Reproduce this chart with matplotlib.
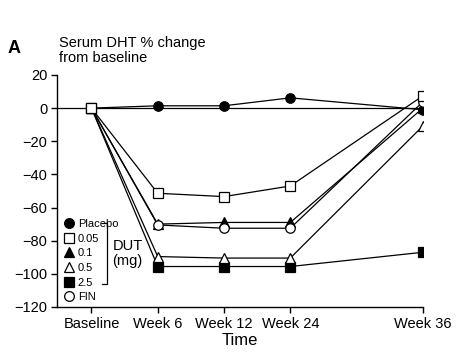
import matplotlib
matplotlib.use("Agg")
import matplotlib.pyplot as plt
from matplotlib.lines import Line2D

plt.rcParams['font.family'] = ['Liberation Sans', 'DejaVu Sans']

# time points (categorical positions, week 36 is spaced wider)
time_labels = ["Baseline", "Week 6", "Week 12", "Week 24", "Week 36"]
time_pos = [0, 1, 2, 3, 5]

placebo = [0, 1.4, 1.4, 6.2, -1]
dut_005 = [0, -51.4, -53.4, -47, 7.4]
dut_01 = [0, -70, -69, -69, 0]
dut_05 = [0, -89.6, -90.5, -90.5, -10.8]
dut_25 = [0, -95.6, -95.6, -95.6, -87]
fin = [0, -70.5, -72.5, -72.5, 3.8]

series = [
    ("2.5", dut_25, "s", "black"),
    ("0.5", dut_05, "^", "white"),
    ("0.1", dut_01, "^", "black"),
    ("Placebo", placebo, "o", "black"),
    ("FIN", fin, "o", "white"),
    ("0.05", dut_005, "s", "white"),
]
legend_order = ["Placebo", "0.05", "0.1", "0.5", "2.5", "FIN"]

fig = plt.figure(figsize=(4.73, 3.52), dpi=100)
ax = fig.add_axes([0.1205, 0.128, 0.894 - 0.1205, 0.787 - 0.128])

ax.axhline(0, color="black", lw=0.9, zorder=1)

handles = {}
for name, vals, mk, fc in series:
    ms = 7 if mk != "o" else 6.8
    ax.plot(time_pos, vals, color="black", lw=0.9, marker=mk, ms=ms,
            mfc=fc, mec="black", mew=0.9, zorder=2)
    handles[name] = Line2D([], [], ls="none", marker=mk, ms=7, mfc=fc,
                           mec="black", mew=0.9)

ax.set_xlim(-0.52, 5)
ax.set_ylim(-120, 20)
ax.set_yticks(range(-120, 21, 20))
ax.set_xticks(time_pos)
ax.set_xticklabels(time_labels)
for s in ["top", "right"]:
    ax.spines[s].set_visible(False)
for s in ["left", "bottom"]:
    ax.spines[s].set_linewidth(1.0)
ax.tick_params(axis="both", length=4, width=1.0, labelsize=10.5, pad=3)
ax.set_xlabel("Time", fontsize=12, labelpad=2)

leg = ax.legend([handles[n] for n in legend_order], legend_order,
                loc="lower left", bbox_to_anchor=(0.022, 0.02),
                frameon=False, fontsize=8, handlelength=0.8,
                handletextpad=0.35, labelspacing=0.42, borderpad=0,
                borderaxespad=0)

# bracket for DUT doses
bx = 0.137
ax.plot([bx - 0.015, bx, bx, bx - 0.015], [0.36, 0.36, 0.1, 0.1],
        transform=ax.transAxes, color="black", lw=0.9, clip_on=False)
ax.text(bx + 0.015, 0.23, "DUT\n(mg)", transform=ax.transAxes,
        fontsize=10.5, va="center", ha="left", linespacing=1.15)

fig.text(0.017, 0.862, "A", fontsize=13, fontweight="bold", va="center")
fig.text(0.125, 0.857, "Serum DHT % change\nfrom baseline", fontsize=10.5,
         va="center", ha="left", linespacing=1.05)

fig.savefig("out.png", dpi=100)
